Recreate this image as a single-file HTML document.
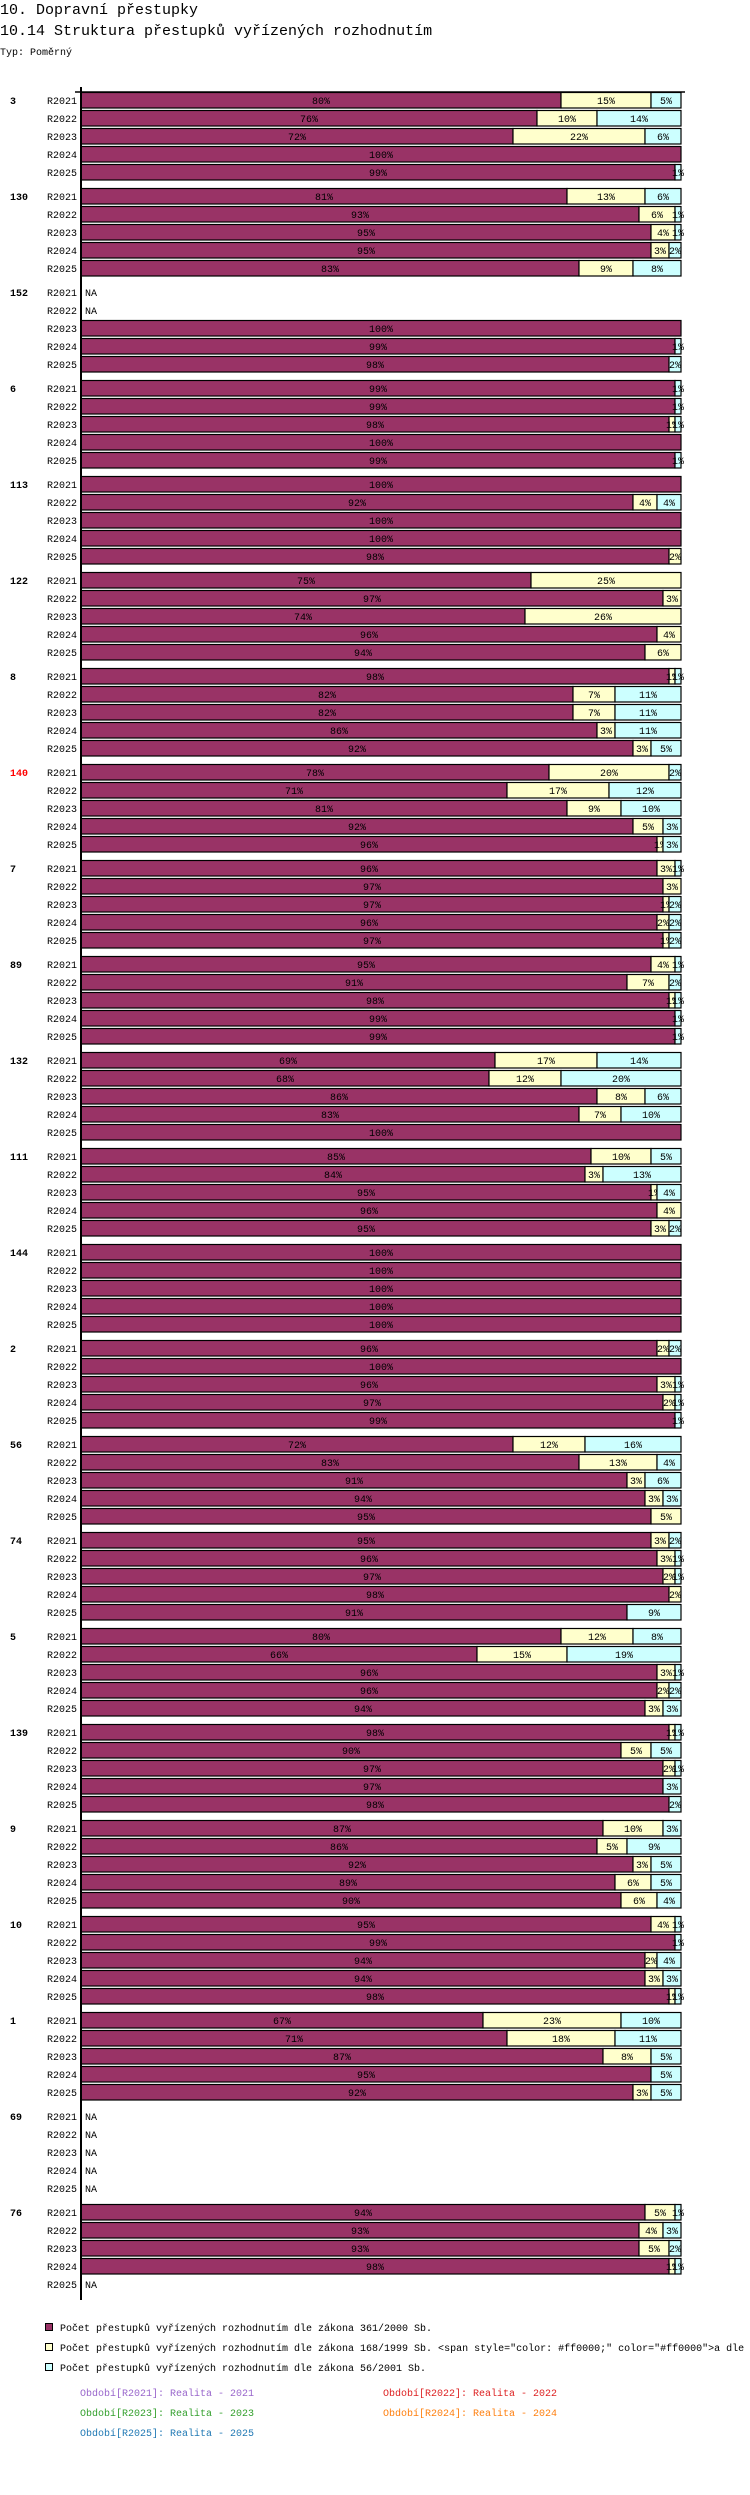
<!DOCTYPE html>
<html><head><meta charset="utf-8">
<style>
body{margin:0;background:#fff;width:750px;height:2490px;overflow:hidden;font-family:"Liberation Mono","DejaVu Sans Mono",monospace;}
svg text{font-family:"Liberation Mono","DejaVu Sans Mono",monospace;}
</style></head>
<body>
<svg id="chart" width="750" height="2490" xmlns="http://www.w3.org/2000/svg">
<text x="0" y="14" font-size="15">10. Dopravní přestupky</text>
<text x="0" y="35" font-size="15">10.14 Struktura přestupků vyřízených rozhodnutím</text>
<text x="0" y="55" font-size="10">Typ: Poměrný</text>
<g id="bars"></g>
<line x1="81" y1="87" x2="81" y2="2300" stroke="#000" stroke-width="2"/>
<line x1="75" y1="92" x2="685" y2="92" stroke="#000" stroke-width="1.5"/>
<g>
<rect x="45.5" y="2323.5" width="7" height="7" fill="#993366" stroke="#000"/>
<text x="60" y="2331" font-size="10">Počet přestupků vyřízených rozhodnutím dle zákona 361/2000 Sb.</text>
<rect x="45.5" y="2343.5" width="7" height="7" fill="#ffffcc" stroke="#000"/>
<text x="60" y="2351" font-size="10">Počet přestupků vyřízených rozhodnutím dle zákona 168/1999 Sb. &lt;span style="color: #ff0000;" color="#ff0000"&gt;a dle</text>
<rect x="45.5" y="2363.5" width="7" height="7" fill="#ccffff" stroke="#000"/>
<text x="60" y="2371" font-size="10">Počet přestupků vyřízených rozhodnutím dle zákona 56/2001 Sb.</text>
<text x="80" y="2396" font-size="10" fill="#9966cc">Období[R2021]: Realita - 2021</text>
<text x="383" y="2396" font-size="10" fill="#dd2222">Období[R2022]: Realita - 2022</text>
<text x="80" y="2416" font-size="10" fill="#33a02c">Období[R2023]: Realita - 2023</text>
<text x="383" y="2416" font-size="10" fill="#ff7f0e">Období[R2024]: Realita - 2024</text>
<text x="80" y="2436" font-size="10" fill="#1f78b4">Období[R2025]: Realita - 2025</text>
</g>
</svg>
<script>
const groups = ["3","130","152","6","113","122","8","140","7","89","132","111","144","2","56","74","5","139","9","10","1","69","76"];
const periods = ["R2021","R2022","R2023","R2024","R2025"];
// null = NA
const s361 = [
[80,76,72,100,99],[81,93,95,95,83],[null,null,100,99,98],[99,99,98,100,99],[100,92,100,100,98],
[75,97,74,96,94],[98,82,82,86,92],[78,71,81,92,96],[96,97,97,96,97],[95,91,98,99,99],
[69,68,86,83,100],[85,84,95,96,95],[100,100,100,100,100],[96,100,96,97,99],[72,83,91,94,95],
[95,96,97,98,91],[80,66,96,96,94],[98,90,97,97,98],[87,86,92,89,90],[95,99,94,94,98],
[67,71,87,95,92],[null,null,null,null,null],[94,93,93,98,null]];
const s168 = [
[15,10,22,0,0],[13,6,4,3,9],[null,null,0,0,0],[0,0,1,0,0],[0,4,0,0,2],
[25,3,26,4,6],[1,7,7,3,3],[20,17,9,5,1],[3,3,1,2,1],[4,7,1,0,0],
[17,12,8,7,0],[10,3,1,4,3],[0,0,0,0,0],[2,0,3,2,0],[12,13,3,3,5],
[3,3,2,2,0],[12,15,3,2,3],[1,5,2,0,0],[10,5,3,6,6],[4,0,2,3,1],
[23,18,8,0,3],[null,null,null,null,null],[5,4,5,1,null]];
const s56 = [
[5,14,6,0,1],[6,1,1,2,8],[null,null,0,1,2],[1,1,1,0,1],[0,4,0,0,0],
[0,0,0,0,0],[1,11,11,11,5],[2,12,10,3,3],[1,0,2,2,2],[1,2,1,1,1],
[14,20,6,10,0],[5,13,4,0,2],[0,0,0,0,0],[2,0,1,1,1],[16,4,6,3,0],
[2,1,1,0,9],[8,19,1,2,3],[1,5,1,3,2],[3,9,5,5,4],[1,1,4,3,1],
[10,11,5,5,5],[null,null,null,null,null],[1,3,2,1,null]];

const X0 = 81, W = 600, TOP = 92, ROW = 18, GAP = 96, BH = 15.5;
const xs = v => X0 + v / 100 * W;
const NS = "http://www.w3.org/2000/svg";
const root = document.getElementById('bars');
function mk(tag, attrs){const e=document.createElementNS(NS,tag);for(const k in attrs)e.setAttribute(k,attrs[k]);return e;}
const colors = ["#993366","#ffffcc","#ccffff"];
const series = [s361,s168,s56];
const snames = ["361","168","56"];
groups.forEach((g,gi)=>{
  const gy = TOP + gi*GAP;
  const gl = mk('text',{x:10,y:gy+12,'font-size':10,'font-weight':'bold',fill:g==="140"?"#ff0000":"#000"});
  gl.textContent = g;
  
  
  root.appendChild(gl);
  periods.forEach((p,pi)=>{
    const y = gy + pi*ROW;
    const rl = mk('text',{x:77,y:y+12,'font-size':10,'text-anchor':'end'});
    rl.textContent = p;
    
    
    root.appendChild(rl);
    if (s361[gi][pi] === null) {
      const na = mk('text',{x:85,y:y+12,'font-size':10});
      na.textContent = 'NA';
      
      
      root.appendChild(na);
      return;
    }
    let cum = 0;
    series.forEach((s,si)=>{
      const v = s[gi][pi];
      if (!v) return;
      const x1 = xs(cum), x2 = xs(cum+v);
      const r = mk('rect',{x:x1,y:y+0.5,width:x2-x1,height:BH,fill:colors[si],stroke:'#000','stroke-width':1.2});
      
      
      root.appendChild(r);
      const t = mk('text',{x:(x1+x2)/2,y:y+12,'font-size':10,'text-anchor':'middle'});
      t.textContent = v+'%';
      
      
      root.appendChild(t);
      cum += v;
    });
  });
});
</script>
</body></html>
